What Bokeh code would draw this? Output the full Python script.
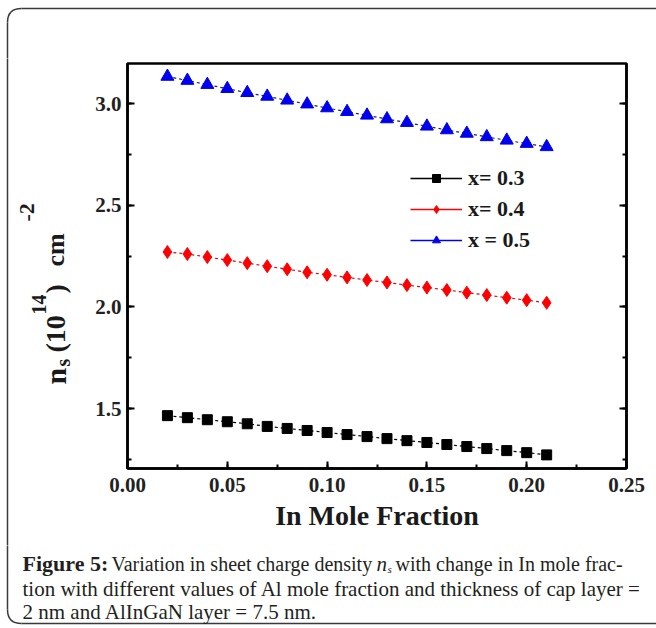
import math
from bokeh.plotting import figure
from bokeh.layouts import column, row
from bokeh.models import (Label, Legend, LegendItem, LinearAxis, SingleIntervalTicker,
                          NumeralTickFormatter, Range1d, CustomJSTickFormatter)
from bokeh.embed import file_html
from bokeh.resources import INLINE

# ---------------- data ----------------
in_mole = [0.02, 0.03, 0.04, 0.05, 0.06, 0.07, 0.08, 0.09, 0.10, 0.11,
           0.12, 0.13, 0.14, 0.15, 0.16, 0.17, 0.18, 0.19, 0.20, 0.21]
ns_x03 = [1.465, 1.455, 1.445, 1.435, 1.425, 1.412, 1.402, 1.392, 1.382, 1.372,
          1.362, 1.352, 1.342, 1.333, 1.323, 1.313, 1.303, 1.293, 1.283, 1.272]
ns_x04 = [2.27, 2.26, 2.245, 2.23, 2.215, 2.20, 2.185, 2.17, 2.158, 2.145,
          2.132, 2.12, 2.107, 2.095, 2.083, 2.07, 2.058, 2.045, 2.033, 2.02]
ns_x05 = [3.133, 3.113, 3.093, 3.073, 3.053, 3.035, 3.016, 2.997, 2.978, 2.96,
          2.942, 2.924, 2.906, 2.888, 2.87, 2.853, 2.836, 2.819, 2.803, 2.787]
series_labels = ["x= 0.3", "x= 0.4", "x = 0.5"]
x_label = "In Mole Fraction"

FONT = "Liberation Serif"
BORDER = "#3a3a3a"

# page layout (page coords): frame left 127, right 626, top 63, bottom 468
TOTAL_W = 656
TOP_H = 58          # strip above the plot
MID_H = 487         # plot row
CAP_H = 81          # caption strip
YLAB_W = 72         # y-label strip


def no_align(f):
    try:
        f.frame_align = False
    except Exception:
        pass


def blank_fig(w, h, x0, y0):
    """A figure whose frame is the whole canvas; data coords == page coords."""
    f = figure(width=w, height=h, output_backend="svg", toolbar_location=None,
               x_range=Range1d(x0, x0 + w), y_range=Range1d(y0 + h, y0),
               min_border=0, x_axis_location=None, y_axis_location=None,
               background_fill_color="white", border_fill_color="white")
    f.outline_line_color = None
    f.grid.visible = False
    no_align(f)
    return f


def lab(f, text, px, py, size, style="normal", angle=0.0, color="#1a1a1a"):
    f.add_layout(Label(x=px, y=py, text=text, angle=angle, text_font=FONT,
                       text_font_style=style, text_font_size=f"{size}px",
                       text_color=color, text_align="left", text_baseline="alphabetic"))


# ---------------- top strip: panel border ----------------
top = blank_fig(TOTAL_W, TOP_H, 0, 0)
top.segment(x0=[21], y0=[8], x1=[TOTAL_W + 20], y1=[8], line_color=BORDER, line_width=1.5)
top.quadratic(x0=[7], y0=[22], x1=[21], y1=[8], cx=[7], cy=[8], line_color=BORDER, line_width=1.5)
top.segment(x0=[7], y0=[22], x1=[7], y1=[TOP_H + 2], line_color=BORDER, line_width=1.5)

# ---------------- y label strip ----------------
ylf = blank_fig(YLAB_W, MID_H, 0, TOP_H)
ylf.segment(x0=[7], y0=[TOP_H - 2], x1=[7], y1=[TOP_H + MID_H + 2], line_color=BORDER, line_width=1.5)
R = math.pi / 2
lab(ylf, "n", 55, 384, 30, "bold", R)
lab(ylf, "s", 62, 366, 20, "bold", R)
lab(ylf, "(10", 55, 352, 28, "bold", R)
lab(ylf, "14", 38, 314, 20, "bold", R)
lab(ylf, ")", 55, 293, 28, "bold", R)
lab(ylf, "cm", 55, 266, 26, "bold", R)
lab(ylf, "-2", 26, 221, 22, "bold", R)

# ---------------- main plot ----------------
MAIN_W = TOTAL_W - YLAB_W
p = figure(width=MAIN_W, height=MID_H, output_backend="svg", toolbar_location=None,
           x_range=Range1d(0.0, 0.25), y_range=Range1d(1.205, 3.197),
           min_border_left=127 - YLAB_W, min_border_right=TOTAL_W - 626,
           min_border_top=63 - TOP_H, min_border_bottom=TOP_H + MID_H - 468,
           background_fill_color="white", border_fill_color="white")
no_align(p)
p.grid.visible = False
p.outline_line_color = "black"
p.outline_line_width = 2.5


def style_axis(ax):
    ax.axis_line_width = 2.5
    ax.axis_line_color = "black"
    ax.major_tick_in = 7
    ax.major_tick_out = 0
    ax.minor_tick_in = 4
    ax.minor_tick_out = 0
    ax.major_tick_line_width = 2
    ax.minor_tick_line_width = 2
    ax.major_label_text_font = FONT
    ax.major_label_text_font_style = "bold"
    ax.major_label_text_font_size = "21px"
    ax.major_label_text_color = "#222222"


xax = p.xaxis[0]
xax.ticker = SingleIntervalTicker(interval=0.05, num_minor_ticks=2)
xax.formatter = NumeralTickFormatter(format="0.00")
style_axis(xax)
xax.major_label_standoff = 9
xax.axis_label = x_label
xax.axis_label_text_font = FONT
xax.axis_label_text_font_style = "bold"
xax.axis_label_text_font_size = "28px"
xax.axis_label_text_color = "#1a1a1a"
xax.axis_label_standoff = 5

yax = p.yaxis[0]
yax.ticker = SingleIntervalTicker(interval=0.5, num_minor_ticks=2)
yax.formatter = NumeralTickFormatter(format="0.0")
style_axis(yax)
yax.major_label_standoff = 6

rax = LinearAxis(ticker=SingleIntervalTicker(interval=0.5, num_minor_ticks=2),
                 formatter=CustomJSTickFormatter(code="return ''"))
style_axis(rax)
p.add_layout(rax, "right")

specs = [
    (ns_x03, "black", "black", "square", 10),
    (ns_x04, "red", "#d01010", "diamond", 13),
    (ns_x05, "#0000ee", "#202070", "triangle", 13),
]
items = []
for (ys, col, lcol, marker, size), lab_text in zip(specs, series_labels):
    p.line(in_mole, ys, line_color=lcol, line_dash="3 3", line_width=1.2)
    sc = p.scatter(in_mole, ys, marker=marker, size=size, fill_color=col, line_color=col)
    leg_line = p.line(in_mole[:1], [float("nan")], line_color=col, line_width=1.3)
    items.append(LegendItem(label=lab_text, renderers=[leg_line, sc]))

legend = Legend(items=items, location=(283, 215), glyph_width=52, glyph_height=20,
                spacing=5, padding=0, margin=0, label_standoff=6,
                label_text_font=FONT, label_text_font_style="bold",
                label_text_font_size="22px", label_text_color="#1a1a1a",
                border_line_alpha=0, background_fill_alpha=0)
p.add_layout(legend)

# ---------------- caption strip ----------------
CAP_Y0 = TOP_H + MID_H
cap = blank_fig(TOTAL_W, CAP_H, 0, CAP_Y0)
cap.segment(x0=[7], y0=[CAP_Y0 - 2], x1=[7], y1=[609], line_color=BORDER, line_width=1.5)
cap.quadratic(x0=[7], y0=[609], x1=[21], y1=[623], cx=[7], cy=[623], line_color=BORDER, line_width=1.5)
cap.segment(x0=[21], y0=[623], x1=[TOTAL_W + 20], y1=[623], line_color=BORDER, line_width=1.5)

CC = "#231f20"
lab(cap, "Figure 5:", 22, 563, 22, "bold", color=CC)
lab(cap, "Variation in sheet charge density", 111, 563, 20, color=CC)
lab(cap, "n", 376, 563, 21, "italic", color=CC)
lab(cap, "s", 387, 568, 11, "italic", color=CC)
lab(cap, "with change in In mole frac-", 395, 563, 20, color=CC)
lab(cap, "tion with different values of Al mole fraction and thickness of cap layer =", 22, 588, 21, color=CC)
lab(cap, "2 nm and AlInGaN layer = 7.5 nm.", 22, 611, 21, color=CC)

layout = column(top, row(ylf, p, spacing=0), cap, spacing=0)
open("out.html", "w").write(file_html(layout, INLINE))
